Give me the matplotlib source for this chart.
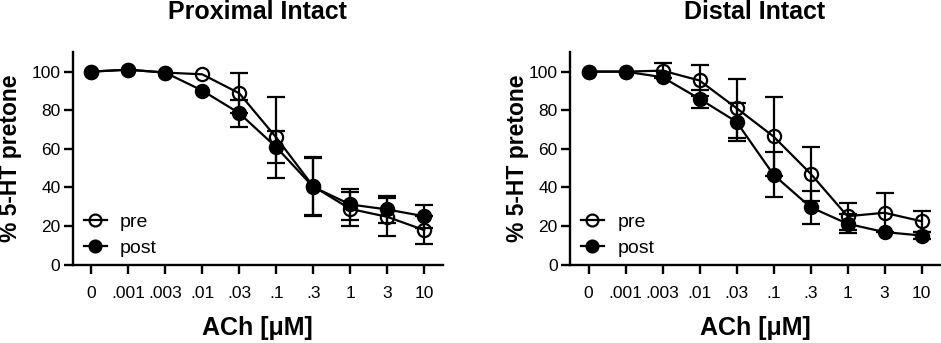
import numpy as np
import matplotlib
matplotlib.use("Agg")
import matplotlib.pyplot as plt

plt.rcParams['font.family'] = ['Liberation Sans', 'DejaVu Sans']

# ---------------- data ----------------
conc_labels = ['0', '.001', '.003', '.01', '.03', '.1', '.3', '1', '3', '10']

prox_pre = [100, 101, 99.5, 98.6, 88.8, 65.9, 40.6, 28.9, 24.8, 17.9]
prox_pre_err = [0, 0, 0, 0, 10.3, 20.8, 15.0, 9.0, 9.8, 7.4]
prox_post = [100, 101, 99.5, 90.2, 78.5, 60.9, 40.3, 31.2, 28.6, 25.1]
prox_post_err = [0, 0, 0, 0, 7.0, 8.2, 15.0, 8.0, 6.9, 6.0]

dist_pre = [100, 100, 100.5, 95.4, 81.1, 66.4, 47.2, 25.1, 26.9, 22.5]
dist_pre_err = [0, 0, 4.0, 8.2, 15.3, 20.3, 14.0, 7.0, 10.0, 5.4]
dist_post = [100, 100, 97.1, 85.9, 74.0, 46.6, 29.8, 21.2, 16.9, 15.1]
dist_post_err = [0, 0, 0, 4.8, 10.0, 11.6, 8.5, 5.0, 0, 2.0]

titles = ['Proximal Intact', 'Distal Intact']
ylabel = '% 5-HT pretone'
xlabel = 'ACh [\u03bcM]'

W, H = 941, 343
fig = plt.figure(figsize=(W / 100, H / 100), dpi=100)

ax_bottom = 1 - 264.7 / H
ax_h = 212.4 / H
ax_w = 370 / W
axes = [fig.add_axes([72.7 / W, ax_bottom, ax_w, ax_h]),
        fig.add_axes([570 / W, ax_bottom, ax_w, ax_h])]

panels = [(prox_pre, prox_pre_err, prox_post, prox_post_err),
          (dist_pre, dist_pre_err, dist_post, dist_post_err)]
ylabel_x = [-0.168, -0.143]

lw = 1.6
for ax, (pre, pre_e, post, post_e), title, ylx in zip(axes, panels, titles, ylabel_x):
    x = np.arange(len(conc_labels))
    pre = np.array(pre); post = np.array(post)
    pre_e = np.array(pre_e); post_e = np.array(post_e)

    for vals, errs in ((pre, pre_e), (post, post_e)):
        m = errs > 0
        ax.errorbar(x[m], vals[m], yerr=errs[m], fmt='none', ecolor='black',
                    elinewidth=lw, capsize=6.8, capthick=lw, zorder=2)

    ax.plot(x, pre, '-', color='black', lw=lw, marker='o', ms=9.5,
            mfc='none', mec='black', mew=1.6, zorder=4, label='pre')
    ax.plot(x, post, '-', color='black', lw=lw, marker='o', ms=9.5,
            mfc='black', mec='black', mew=1.6, zorder=5, label='post')

    ax.set_xlim(-0.5, 9.5)
    ax.set_ylim(0, 110)
    ax.set_yticks([0, 20, 40, 60, 80, 100])
    ax.set_xticks(x)
    ax.set_xticklabels(conc_labels)

    for s in ['top', 'right']:
        ax.spines[s].set_visible(False)
    for s in ['left', 'bottom']:
        ax.spines[s].set_linewidth(1.7)

    ax.tick_params(axis='both', direction='out', width=1.7, length=6.8,
                   labelsize=12.5, colors='black')
    ax.tick_params(axis='x', pad=8.5)
    ax.tick_params(axis='y', pad=2)

    ax.set_xlabel(xlabel, fontsize=18, fontweight='bold')
    ax.xaxis.set_label_coords(0.5, -0.24)
    ax.xaxis.label.set_verticalalignment('top')

    ax.set_ylabel(ylabel, fontsize=16.5, fontweight='bold')
    ax.yaxis.set_label_coords(ylx, 0.5)
    ax.yaxis.label.set_verticalalignment('center')

    ax.text(0.5, 1 + (52.3 - 12) / 212.4, title, transform=ax.transAxes,
            ha='center', va='center', fontsize=18, fontweight='bold')

    ax.legend(loc='lower left', bbox_to_anchor=(0.03, 0.035), frameon=False,
              fontsize=14, handlelength=1.17, handletextpad=0.7,
              borderpad=0, borderaxespad=0, labelspacing=0.45, markerscale=0.9)

fig.savefig('out.png', dpi=100)
